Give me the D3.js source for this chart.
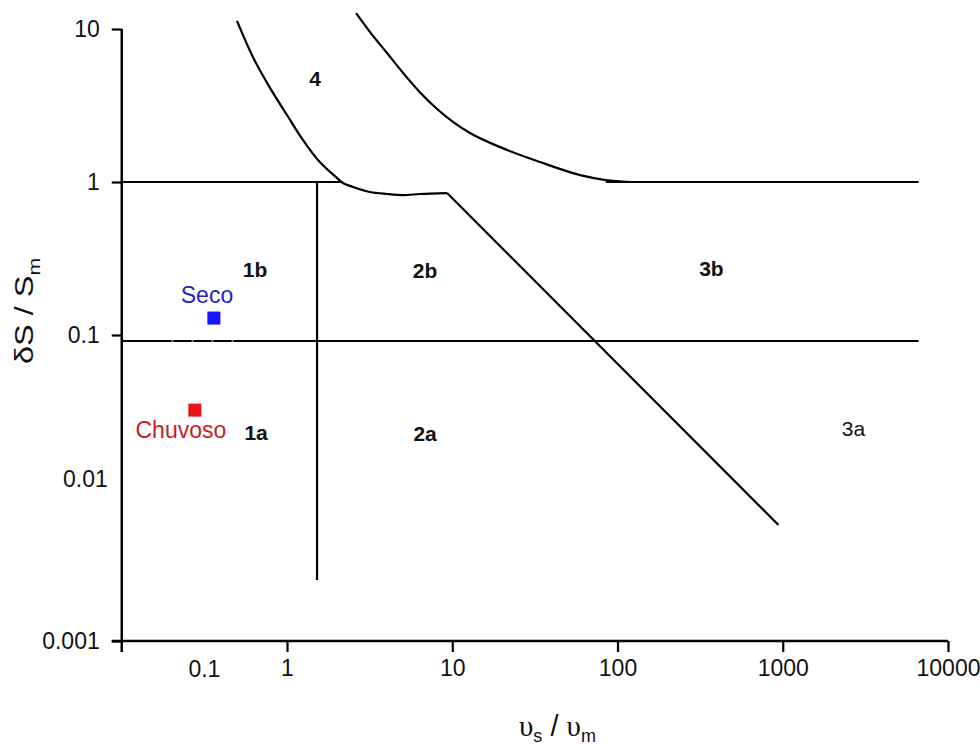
<!DOCTYPE html>
<html>
<head>
<meta charset="utf-8">
<script src="https://cdn.jsdelivr.net/npm/d3@7/dist/d3.min.js"></script>
<style>
  html, body { margin: 0; padding: 0; background: #fff; }
  svg { display: block; font-family: "Liberation Sans", Arial, sans-serif; }
</style>
</head>
<body>
<svg id="chart" width="980" height="744"></svg>
<script>
// ---- data -------------------------------------------------------------
// axis ticks
const xTickValues = [1, 10, 100, 1000, 10000];
const xTickLabels = ["1", "10", "100", "1000", "10000"];
const yTickValues = [10, 1, 0.1, 0.01, 0.001];
const yTickLabels = ["10", "1", "0.1", "0.01", "0.001"];

// regime boundaries (x = υs/υm, y = δS/Sm)
const boundary4 = [
  [0.498, 11.3], [0.622, 6.56], [0.789, 4.12], [1.0, 2.74], [1.25, 1.88],
  [1.58, 1.35], [2.01, 1.06], [2.18, 0.985], [2.51, 0.927], [3.18, 0.86],
  [4.03, 0.835], [5.05, 0.822], [6.39, 0.835], [9.31, 0.847]
];
const diagonal = [[9.31, 0.847], [942, 0.00573]];
const boundary3 = [
  [2.62, 12.7], [3.18, 9.55], [4.03, 6.97], [5.05, 5.15], [6.39, 3.85],
  [8.10, 3.0], [10.1, 2.47], [12.8, 2.09], [19.5, 1.69], [34.1, 1.35],
  [59.5, 1.11], [85, 1.03], [120, 1.0]
];
const boundary3Flat = [[85, 1.0], [6640, 1.0]];
const lineTop = [[0.1, 1.0], [2.18, 1.0]];
const lineVertical = [[1.52, 1.0], [1.52, 0.0025]];
const lineMid = [[0.1, 0.0914], [6640, 0.0914]];
const lineMidBreaks = [[0.2, 0.0914], [0.49, 0.0914]];

// region labels
const regionNames = ["4", "1b", "2b", "3b", "1a", "2a", "3a"];
const regionX = [1.48, 0.64, 6.85, 370, 0.65, 6.85, 2680];
const regionY = [4.78, 0.266, 0.262, 0.274, 0.0232, 0.0228, 0.0246];
const regionBold = [true, true, true, true, true, true, false];

// seasons
const seasonNames = ["Seco", "Chuvoso"];
const seasonX = [0.361, 0.277];
const seasonY = [0.129, 0.0323];
const seasonLabelX = [0.328, 0.228];
const seasonLabelY = [0.183, 0.0239];
const seasonFill = ["#1414ff", "#e81212"];
const seasonText = ["#2424c4", "#c81e24"];

// ---- layout -----------------------------------------------------------
const svg = d3.select("#chart");
const x = d3.scaleLog().domain([0.1, 10000]).range([121.75, 948]);
const y = d3.scaleLog().domain([0.001, 10]).range([641, 29]);

const line = d3.line().x(d => x(d[0])).y(d => y(d[1]));
const smooth = d3.line().x(d => x(d[0])).y(d => y(d[1])).curve(d3.curveMonotoneX);
const smoothCR = d3.line().x(d => x(d[0])).y(d => y(d[1])).curve(d3.curveCatmullRom.alpha(0.5));

// ---- boundaries -------------------------------------------------------
const g = svg.append("g").attr("fill", "none").attr("stroke", "#000")
  .attr("stroke-width", 2.2).attr("stroke-linejoin", "round");
g.append("path").attr("d", line(lineTop));
g.append("path").attr("d", line(lineVertical));
g.append("path").attr("d", line(lineMid));
g.append("path").attr("d", smoothCR(boundary4));
g.append("path").attr("d", line(diagonal));
g.append("path").attr("d", smooth(boundary3));
g.append("path").attr("d", line(boundary3Flat));
svg.append("path").attr("d", line(lineMidBreaks))
  .attr("fill", "none").attr("stroke", "#fff").attr("stroke-width", 1.2)
  .attr("stroke-dasharray", "2,18");

// ---- axes -------------------------------------------------------------
const xAxis = svg.append("g").attr("transform", `translate(0,${y(0.001)})`)
  .call(d3.axisBottom(x).tickValues(xTickValues)
    .tickFormat((d, i) => xTickLabels[i]).tickSize(11).tickPadding(8).tickSizeOuter(0));
xAxis.select(".domain").remove();
xAxis.append("line").attr("x1", x(0.1) - 10).attr("x2", x(10000))
  .attr("stroke", "#000").attr("stroke-width", 2.5);
xAxis.selectAll(".tick line").attr("stroke", "#000").attr("stroke-width", 2.2);
xAxis.selectAll(".tick text").attr("fill", "#111").attr("font-size", 23)
  .attr("font-family", "Liberation Sans, Arial, sans-serif");
// first decade label sits mid-decade, without a tick
xAxis.append("text").attr("x", (x(0.1) + x(1)) / 2).attr("y", 36)
  .attr("text-anchor", "middle").attr("fill", "#111").attr("font-size", 23)
  .text("0.1");

const yAxis = svg.append("g").attr("transform", `translate(${x(0.1)},0)`)
  .call(d3.axisLeft(y).tickValues(yTickValues)
    .tickFormat((d, i) => yTickLabels[i]).tickSize(10).tickPadding(12).tickSizeOuter(0));
yAxis.select(".domain").remove();
yAxis.append("line").attr("y1", y(10)).attr("y2", y(0.001) + 11)
  .attr("stroke", "#000").attr("stroke-width", 2.5);
yAxis.selectAll(".tick line").attr("stroke", "#000").attr("stroke-width", 2.2);
yAxis.selectAll(".tick text").attr("fill", "#111").attr("font-size", 23)
  .attr("font-family", "Liberation Sans, Arial, sans-serif");
// the 0.01 label carries no tick mark and sits slightly in and up
yAxis.selectAll(".tick").filter(d => d === 0.01).each(function () {
  d3.select(this).select("line").remove();
  d3.select(this).select("text").attr("dx", 8).attr("dy", "-0.05em");
});

// ---- axis titles ------------------------------------------------------
const xt = svg.append("text").attr("x", 519).attr("y", 736)
  .attr("fill", "#111").attr("font-size", 29);
xt.append("tspan").attr("font-family", "Liberation Serif, serif").text("υ");
xt.append("tspan").attr("font-size", 18).attr("dy", 6).text("s");
xt.append("tspan").attr("dy", -6).text(" / ");
xt.append("tspan").attr("font-family", "Liberation Serif, serif").text("υ");
xt.append("tspan").attr("font-size", 18).attr("dy", 6).text("m");

const yt = svg.append("text").attr("transform", "translate(33,364) rotate(-90) scale(1.25,1)")
  .attr("fill", "#111").attr("font-size", 26);
yt.append("tspan").text("δS / S");
yt.append("tspan").attr("font-size", 17).attr("dy", 7).text("m");

// ---- region labels ----------------------------------------------------
svg.append("g").selectAll("text").data(regionNames).join("text")
  .attr("x", (d, i) => x(regionX[i])).attr("y", (d, i) => y(regionY[i]))
  .attr("text-anchor", "middle").attr("dominant-baseline", "central")
  .attr("font-size", 21).attr("font-weight", (d, i) => regionBold[i] ? "bold" : "normal")
  .attr("fill", "#111").text(d => d);

// ---- season points ----------------------------------------------------
const s = 13;
svg.append("g").selectAll("rect").data(seasonNames).join("rect")
  .attr("x", (d, i) => x(seasonX[i]) - s / 2).attr("y", (d, i) => y(seasonY[i]) - s / 2)
  .attr("width", s).attr("height", s).attr("fill", (d, i) => seasonFill[i]);
svg.append("g").selectAll("text").data(seasonNames).join("text")
  .attr("x", (d, i) => x(seasonLabelX[i])).attr("y", (d, i) => y(seasonLabelY[i]))
  .attr("text-anchor", "middle").attr("dominant-baseline", "central")
  .attr("font-size", 23).attr("fill", (d, i) => seasonText[i]).text(d => d);
</script>
</body>
</html>
